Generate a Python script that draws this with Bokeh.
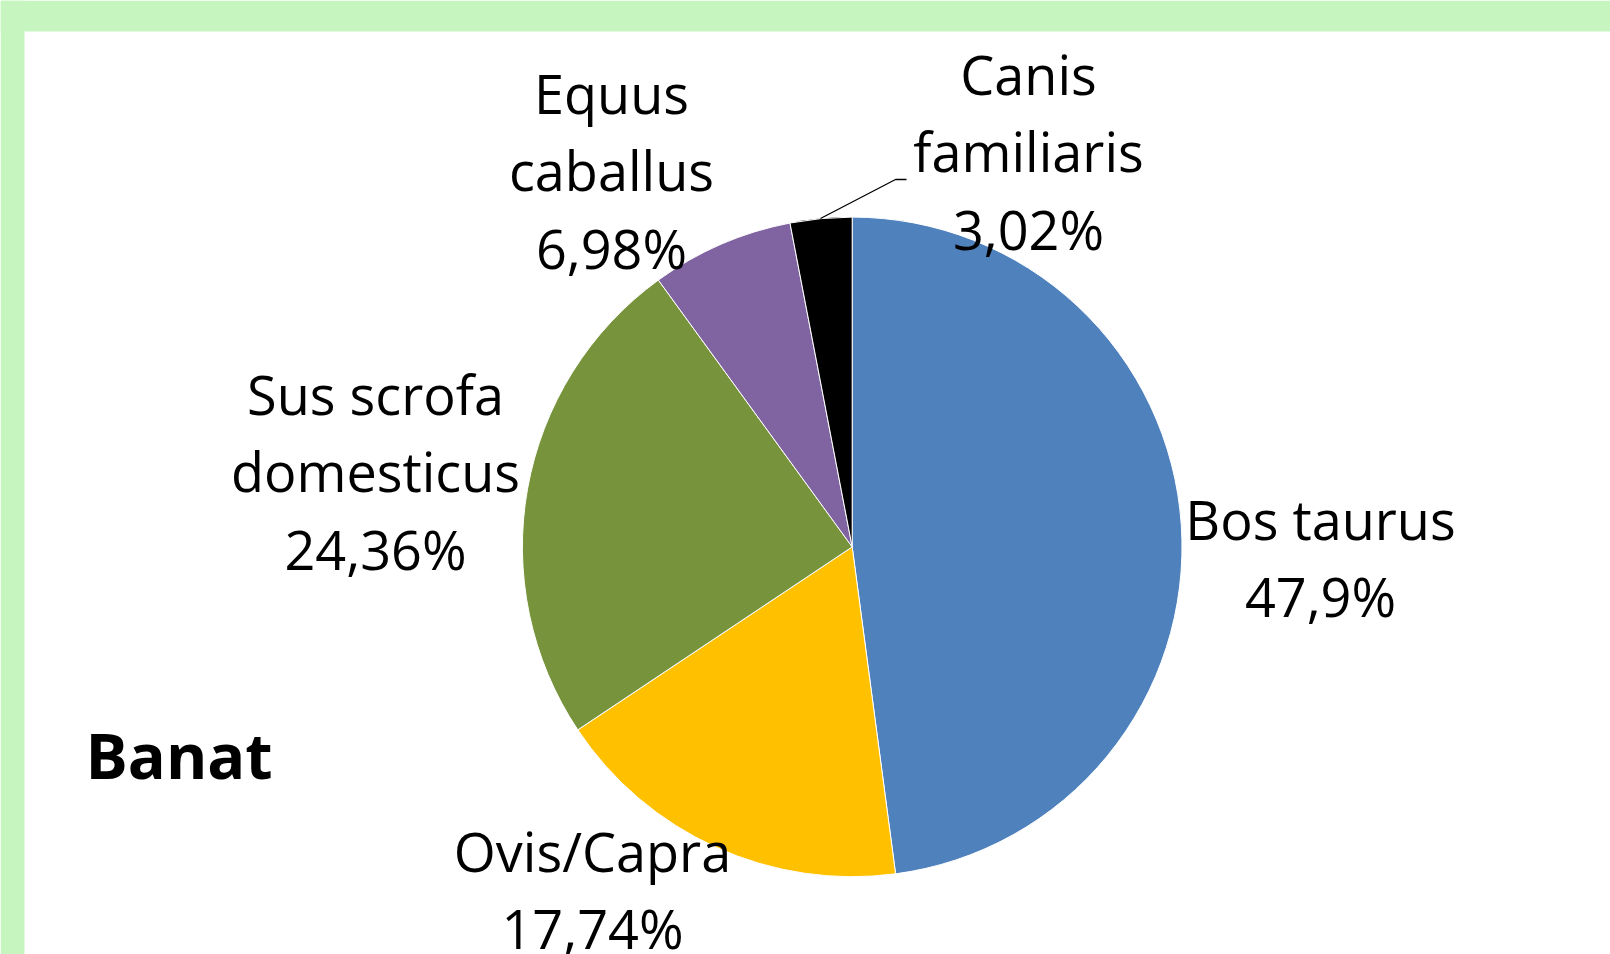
import math
from bokeh.plotting import figure
from bokeh.models import Range1d, ColumnDataSource
from bokeh.core.properties import value
from bokeh.embed import file_html
from bokeh.resources import INLINE

# ---- data ----
categories = ["Bos taurus", "Ovis/Capra", "Sus scrofa domesticus", "Equus caballus", "Canis familiaris"]
percentages = [47.9, 17.74, 24.36, 6.98, 3.02]
label_lines = [["Bos taurus"], ["Ovis/Capra"], ["Sus scrofa", "domesticus"],
               ["Equus", "caballus"], ["Canis", "familiaris"]]
title = "Banat"

# ---- style / layout ----
colors = ["#4F81BD", "#FFC000", "#77933C", "#8064A2", "#000000"]
W, H = 1610, 954
TEXT_DY = -22
def px(X):
    return X
def py(Y):
    return H - Y

CX, CY, R = 851.7, 546.4, 329.8
# label anchor: (center x, first baseline y) in page coordinates
label_anchor = [(1320, 540), (592, 872), (375, 415), (611, 114), (1028, 95)]
LINE_STEP = 77.5

p = figure(width=W, height=H, x_range=Range1d(0, W), y_range=Range1d(0, H),
           output_backend="svg", toolbar_location=None,
           x_axis_type=None, y_axis_type=None, min_border=0)
p.outline_line_color = None
p.background_fill_color = "white"
p.border_fill_color = "white"

# green frame
green = "#C6F5C0"
p.quad(left=0, right=W, top=H, bottom=py(31), fill_color=green, line_color=None)
p.quad(left=0, right=px(24), top=H, bottom=0, fill_color=green, line_color=None)

# wedges
total = sum(percentages)
starts, ends = [], []
cum = 0.0
for v in percentages:
    starts.append(math.pi / 2 - 2 * math.pi * cum / total)
    cum += v
    ends.append(math.pi / 2 - 2 * math.pi * cum / total)
src = ColumnDataSource(dict(cat=categories, val=percentages, start=starts, end=ends, color=colors))
p.wedge(x=px(CX), y=py(CY), radius=R, start_angle="start", end_angle="end",
        direction="clock", fill_color="color", line_color="white", line_width=1, source=src)

# leader line for small slice
p.line(x=[px(820), px(895), px(906)], y=[py(218), py(179), py(179)],
       line_color="black", line_width=1.3)

# labels
tx, ty, tt = [], [], []
for lines, v, (ax, ay) in zip(label_lines, percentages, label_anchor):
    pct = f"{v:g}".replace(".", ",") + "%"
    for j, s in enumerate(lines + [pct]):
        tx.append(px(ax))
        ty.append(py(ay + j * LINE_STEP + TEXT_DY))
        tt.append(s)
p.text(x=tx, y=ty, text=tt, text_font=value("Open Sans"), text_font_size="54px",
       text_align="center", text_baseline="alphabetic", text_color="black")

p.text(x=[px(85)], y=[py(776 + TEXT_DY)], text=[title], text_font=value("Open Sans"),
       text_font_style="bold", text_font_size="63px", text_align="left",
       text_baseline="alphabetic", text_color="black")

open("out.html", "w").write(file_html(p, INLINE))
